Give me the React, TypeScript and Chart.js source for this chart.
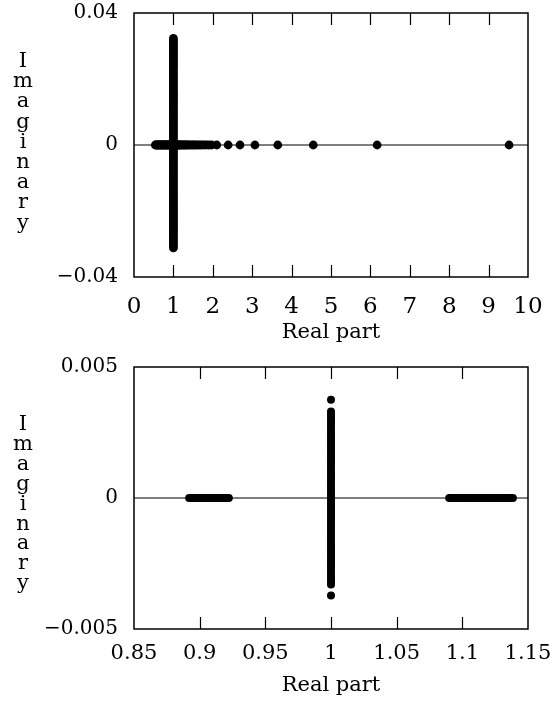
import React, { useEffect, useRef } from 'react';
import { Chart, registerables } from 'chart.js';

Chart.register(...registerables);

// ---- data ----
const topXTicks = [0, 1, 2, 3, 4, 5, 6, 7, 8, 9, 10];
const topYTicks = [-0.04, 0, 0.04];
const bottomXTicks = [0.85, 0.9, 0.95, 1, 1.05, 1.1, 1.15];
const bottomYTicks = [-0.005, 0, 0.005];

// top panel: real eigenvalues (imaginary part 0)
const topRealAxisRe = [
  0.54, 0.56, 0.58, 0.6, 0.62, 0.64, 0.66, 0.68, 0.7, 0.72, 0.74, 0.76, 0.78, 0.8, 0.82,
  0.84, 0.86, 0.88, 0.9, 0.92, 0.94, 0.96, 0.98,
  1.02, 1.04, 1.06, 1.08, 1.1, 1.12, 1.14, 1.16, 1.18, 1.21, 1.24, 1.27, 1.3, 1.33, 1.36,
  1.4, 1.44, 1.48, 1.52, 1.56, 1.61, 1.66, 1.71, 1.77, 1.83, 1.9, 1.97, 2.1,
  2.39, 2.69, 3.07, 3.65, 4.55, 6.17, 9.52,
];
// top panel: complex eigenvalues on the line Re = 1
const topVerticalIm = [
  0.0323, 0.0317, 0.0311, 0.0305, 0.0299, 0.0293, 0.0288, 0.0282, 0.0276, 0.027, 0.0263,
  0.0257, 0.0251, 0.0245, 0.024, 0.0234, 0.0228, 0.0222, 0.0216, 0.021, 0.0204, 0.0198,
  0.0192, 0.0186, 0.018, 0.0174, 0.0168, 0.0162, 0.0157, 0.0151, 0.0145, 0.0139, 0.0133,
  0.0127, 0.0121, 0.0115, 0.0109, 0.0103, 0.0097, 0.0091, 0.0085, 0.0079, 0.0073, 0.0067,
  0.0061, 0.0055, 0.0049, 0.0043, 0.0037, 0.0031, 0.0025, 0.0019, 0.0013, 0.0007, 0.0,
  -0.0006, -0.0012, -0.0018, -0.0024, -0.003, -0.0036, -0.0042, -0.0048, -0.0054, -0.006,
  -0.0066, -0.0072, -0.0078, -0.0084, -0.009, -0.0096, -0.0102, -0.0108, -0.0114, -0.012,
  -0.0126, -0.0132, -0.0138, -0.0144, -0.015, -0.0156, -0.0162, -0.0168, -0.0174, -0.018,
  -0.0186, -0.0192, -0.0198, -0.0204, -0.021, -0.0216, -0.0222, -0.0228, -0.0234, -0.024,
  -0.0246, -0.0252, -0.0258, -0.0264, -0.027, -0.0276, -0.0282, -0.0288, -0.0294, -0.03,
  -0.0306, -0.0312,
];

// bottom panel (zoom near 1)
const bottomLeftRe = [
  0.892, 0.8935, 0.895, 0.8965, 0.898, 0.8995, 0.901, 0.9025, 0.904, 0.9055, 0.907,
  0.9085, 0.91, 0.9115, 0.913, 0.9145, 0.916, 0.9175, 0.919, 0.9205, 0.9222,
];
const bottomRightRe = [
  1.09, 1.0915, 1.093, 1.0945, 1.096, 1.0975, 1.099, 1.1005, 1.102, 1.1035, 1.105,
  1.1065, 1.108, 1.1095, 1.111, 1.1125, 1.114, 1.1155, 1.117, 1.1185, 1.12, 1.1215,
  1.123, 1.1245, 1.126, 1.1275, 1.129, 1.1305, 1.132, 1.1335, 1.135, 1.1365, 1.1385,
];
const bottomVerticalIm = [
  0.00375, 0.0033, 0.0032, 0.0031, 0.003, 0.0029, 0.0028, 0.0027, 0.0026, 0.0025, 0.0024,
  0.0023, 0.0022, 0.0021, 0.002, 0.0019, 0.0018, 0.0017, 0.0016, 0.0015, 0.0014, 0.0013,
  0.0012, 0.0011, 0.001, 0.0009, 0.0008, 0.0007, 0.0006, 0.0005, 0.0004, 0.0003, 0.0002,
  0.0001, 0.0, -0.0001, -0.0002, -0.0003, -0.0004, -0.0005, -0.0006, -0.0007, -0.0008,
  -0.0009, -0.001, -0.0011, -0.0012, -0.0013, -0.0014, -0.0015, -0.0016, -0.0017,
  -0.0018, -0.0019, -0.002, -0.0021, -0.0022, -0.0023, -0.0024, -0.0025, -0.0026,
  -0.0027, -0.0028, -0.0029, -0.003, -0.0031, -0.0032, -0.0033, -0.00372,
];

const yTitleLetters = ['I', 'm', 'a', 'g', 'i', 'n', 'a', 'r', 'y'];
const xTitle = 'Real part';

const FONT = '"DejaVu Serif", "Liberation Serif", serif';

const fmt = (v: number) => {
  if (Math.abs(v) < 1e-12) return '0';
  const s = String(Number(Math.abs(v).toFixed(4)));
  return v < 0 ? '\u2212' + s : s;
};

const framePlugin = {
  id: 'frame',
  beforeDatasetsDraw(chart: any) {
    const { ctx, chartArea } = chart;
    const y0 = chart.scales.y.getPixelForValue(0);
    ctx.save();
    ctx.strokeStyle = '#000';
    ctx.lineWidth = 1.2;
    ctx.beginPath();
    ctx.moveTo(chartArea.left, y0);
    ctx.lineTo(chartArea.right, y0);
    ctx.stroke();
    ctx.restore();
  },
  afterDraw(chart: any, _a: any, opts: any) {
    const { ctx, chartArea } = chart;
    const { left, right, top, bottom } = chartArea;
    ctx.save();
    ctx.strokeStyle = '#000';
    ctx.lineWidth = 1.5;
    ctx.strokeRect(left, top, right - left, bottom - top);
    ctx.lineWidth = 1.2;
    const xs = chart.scales.x;
    const tl = opts.tickLen || 12;
    xs.ticks.forEach((t: any, i: number) => {
      if (i === 0 || i === xs.ticks.length - 1) return;
      const px = Math.round(xs.getPixelForValue(t.value)) + 0.5;
      ctx.beginPath();
      ctx.moveTo(px, bottom);
      ctx.lineTo(px, bottom - tl);
      ctx.moveTo(px, top);
      ctx.lineTo(px, top + tl);
      ctx.stroke();
    });
    // vertical stacked y title
    ctx.fillStyle = '#000';
    ctx.font = `${opts.letterSize}px ${FONT}`;
    ctx.textAlign = 'center';
    ctx.textBaseline = 'alphabetic';
    yTitleLetters.forEach((ch, i) => {
      ctx.fillText(ch, opts.letterX, top + opts.letterTop + i * opts.letterStep);
    });
    ctx.restore();
  },
};

type PanelCfg = {
  datasets: { x: number; y: number }[][];
  xMin: number; xMax: number; xTicks: number[];
  yMin: number; yMax: number; yTicks: number[];
  padTop: number; xHeight: number; yWidth: number; padRight: number;
  xTickSize: number; xTickPad: number; yTickSize: number;
  titleSize: number; titlePadBottom: number;
  radius: number;
  letterTop: number; letterStep: number; letterX: number; letterSize: number;
};

const zeroPad = (s: any) => {
  s.paddingLeft = 0;
  s.paddingRight = 0;
  s.paddingTop = 0;
  s.paddingBottom = 0;
};

function makeConfig(c: PanelCfg): any {
  return {
    type: 'scatter',
    data: {
      datasets: c.datasets.map((d) => ({
        data: d,
        pointRadius: c.radius,
        pointBackgroundColor: '#000',
        pointBorderColor: '#000',
        pointBorderWidth: 0,
        showLine: false,
      })),
    },
    plugins: [framePlugin],
    options: {
      responsive: false,
      animation: false,
      devicePixelRatio: 1,
      layout: { padding: { top: c.padTop, right: c.padRight, left: 0, bottom: 0 } },
      plugins: {
        legend: { display: false },
        tooltip: { enabled: false },
        frame: {
          tickLen: 12,
          letterTop: c.letterTop,
          letterStep: c.letterStep,
          letterX: c.letterX,
          letterSize: c.letterSize,
        },
      },
      scales: {
        x: {
          type: 'linear',
          min: c.xMin,
          max: c.xMax,
          afterBuildTicks: (s: any) => {
            s.ticks = c.xTicks.map((v) => ({ value: v }));
          },
          afterFit: (s: any) => {
            s.height = c.xHeight;
            zeroPad(s);
          },
          grid: { display: false, drawTicks: false },
          border: { display: false },
          ticks: {
            padding: c.xTickPad,
            maxRotation: 0,
            autoSkip: false,
            color: '#000',
            font: { family: FONT, size: c.xTickSize },
            callback: (v: any) => fmt(Number(v)),
          },
          title: {
            display: true,
            text: xTitle,
            color: '#000',
            font: { family: FONT, size: c.titleSize },
            padding: { top: 0, bottom: c.titlePadBottom },
          },
        },
        y: {
          type: 'linear',
          min: c.yMin,
          max: c.yMax,
          afterBuildTicks: (s: any) => {
            s.ticks = c.yTicks.map((v) => ({ value: v }));
          },
          afterFit: (s: any) => {
            s.width = c.yWidth;
            zeroPad(s);
          },
          grid: { display: false, drawTicks: false },
          border: { display: false },
          ticks: {
            padding: 16,
            autoSkip: false,
            color: '#000',
            font: { family: FONT, size: c.yTickSize },
            callback: (v: any) => fmt(Number(v)),
          },
        },
      },
    },
  };
}

const topPanel: PanelCfg = {
  datasets: [
    topRealAxisRe.map((x) => ({ x, y: 0 })),
    topVerticalIm.map((y) => ({ x: 1, y })),
  ],
  xMin: 0, xMax: 10, xTicks: topXTicks,
  yMin: -0.04, yMax: 0.04, yTicks: topYTicks,
  padTop: 13, xHeight: 74, yWidth: 134, padRight: 22,
  xTickSize: 23, xTickPad: 16, yTickSize: 20,
  titleSize: 21, titlePadBottom: 6,
  radius: 4.4,
  letterTop: 54, letterStep: 20.2, letterX: 23, letterSize: 21,
};

const bottomPanel: PanelCfg = {
  datasets: [
    bottomLeftRe.map((x) => ({ x, y: 0 })),
    bottomRightRe.map((x) => ({ x, y: 0 })),
    bottomVerticalIm.map((y) => ({ x: 1, y })),
  ],
  xMin: 0.85, xMax: 1.15, xTicks: bottomXTicks,
  yMin: -0.005, yMax: 0.005, yTicks: bottomYTicks,
  padTop: 16, xHeight: 73, yWidth: 134, padRight: 22,
  xTickSize: 21, xTickPad: 12, yTickSize: 20,
  titleSize: 21, titlePadBottom: 4,
  radius: 4,
  letterTop: 63, letterStep: 19.9, letterX: 23, letterSize: 21,
};

function Panel({ cfg, top }: { cfg: PanelCfg; top: number }) {
  const ref = useRef<HTMLCanvasElement | null>(null);
  useEffect(() => {
    if (!ref.current) return;
    const chart = new Chart(ref.current, makeConfig(cfg));
    return () => chart.destroy();
  }, [cfg]);
  return (
    <canvas
      ref={ref}
      width={550}
      height={351}
      style={{ position: 'absolute', left: 0, top, width: 550, height: 351, display: 'block' }}
    />
  );
}

export default function App() {
  return (
    <div style={{ position: 'absolute', left: 0, top: 0, width: 550, height: 702, background: '#fff' }}>
      <Panel cfg={topPanel} top={0} />
      <Panel cfg={bottomPanel} top={351} />
    </div>
  );
}
